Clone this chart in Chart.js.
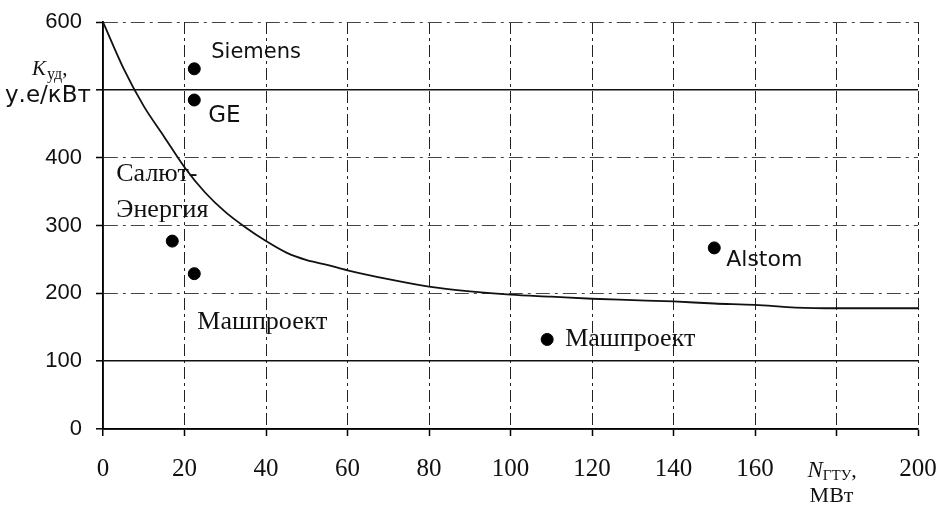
<!DOCTYPE html>
<html>
<head>
<meta charset="utf-8">
<script src="https://cdn.jsdelivr.net/npm/chart.js@4"></script>
<style>
html,body{margin:0;padding:0;background:#fff;}
#wrap{width:939px;height:508px;position:relative;}
</style>
</head>
<body>
<div id="wrap"><canvas id="c" width="939" height="508"></canvas></div>
<script>
// ---- data ----
const curveX = [0, 5, 10, 15, 20, 25, 30, 35, 40, 45, 50, 55, 60, 70, 80, 90, 100, 110, 120, 130, 140, 150, 160, 170, 180, 190, 200];
const curveY = [600, 532, 476, 431, 386, 349, 320, 297, 277, 260, 249, 242, 234, 221, 210, 203, 198, 195, 192, 190, 188, 185, 183, 179, 178, 178, 178];
const companies = ['Siemens', 'GE', 'Салют-Энергия', 'Машпроект', 'Машпроект', 'Alstom'];
const pointX = [22.4, 22.4, 17, 22.4, 109, 150];
const pointY = [531, 485, 277, 229, 132, 267];
const xTicks = [0, 20, 40, 60, 80, 100, 120, 140, 160, 180, 200];
const yTicks = [0, 100, 200, 300, 400, 500, 600];
const yTitle = ['K', 'уд', ',', 'у.е/кВт'];
const xTitle = ['N', 'ГТУ', ',', 'МВт'];

// ---- label placement (pixels relative to each dot) ----
const labelStyle = [
  {lines: ['Siemens'], dx: 17, dy: [-16], font: '21px "DejaVu Sans"'},
  {lines: ['GE'], dx: 14, dy: [16], font: '23px "DejaVu Sans"'},
  {lines: ['Салют-', 'Энергия'], dx: -56, dy: [-67, -31], font: '26px "Liberation Serif"'},
  {lines: ['Машпроект'], dx: 3, dy: [49], font: '26px "Liberation Serif"'},
  {lines: ['Машпроект'], dx: 18, dy: [0], font: '26px "Liberation Serif"'},
  {lines: ['Alstom'], dx: 12, dy: [12], font: '22px "DejaVu Sans"'}
];

const curveData = curveX.map((x, i) => ({x: x, y: curveY[i]}));
const pointData = pointX.map((x, i) => ({x: x, y: pointY[i]}));

const bgPlugin = {
  id: 'bg',
  beforeDraw(chart) {
    const c = chart.ctx;
    c.save();
    c.fillStyle = '#fff';
    c.fillRect(0, 0, chart.width, chart.height);
    c.restore();
  }
};

const textPlugin = {
  id: 'texts',
  afterDraw(chart) {
    const c = chart.ctx;
    const xs = chart.scales.x, ys = chart.scales.y;
    c.save();
    c.fillStyle = '#111';
    c.textBaseline = 'middle';
    c.textAlign = 'left';
    // point labels
    labelStyle.forEach((ls, i) => {
      const px = xs.getPixelForValue(pointX[i]);
      const py = ys.getPixelForValue(pointY[i]);
      c.font = ls.font;
      ls.lines.forEach((t, j) => c.fillText(t, px + ls.dx, py + ls.dy[j]));
    });
    // y axis title (in place of the 500 label)
    const y500 = ys.getPixelForValue(500);
    c.font = 'italic 21px "Liberation Serif"';
    c.textBaseline = 'alphabetic';
    c.fillText(yTitle[0], 32, y500 - 15);
    let w = c.measureText(yTitle[0]).width;
    c.font = '16px "Liberation Serif"';
    c.fillText(yTitle[1], 32 + w + 1, y500 - 11);
    let w2 = c.measureText(yTitle[1]).width;
    c.font = '21px "Liberation Serif"';
    c.fillText(yTitle[2], 32 + w + 1 + w2, y500 - 15);
    c.textBaseline = 'middle';
    c.font = '23px "DejaVu Sans"';
    c.fillText(yTitle[3], 5, y500 + 6);
    // x axis title (in place of the 180 label)
    const x180 = xs.getPixelForValue(180);
    const yb = xs.top;
    c.textBaseline = 'alphabetic';
    c.font = 'italic 23px "Liberation Serif"';
    c.fillText(xTitle[0], x180 - 29, yb + 48);
    w = c.measureText(xTitle[0]).width;
    c.font = '15px "Liberation Serif"';
    c.fillText(xTitle[1], x180 - 29 + w, yb + 51);
    w2 = c.measureText(xTitle[1]).width;
    c.font = '22px "Liberation Serif"';
    c.fillText(xTitle[2], x180 - 29 + w + w2, yb + 48);
    c.textAlign = 'center';
    c.font = '22px "Liberation Serif"';
    c.fillText(xTitle[3], x180 - 5, yb + 73);
    c.restore();
  }
};

new Chart(document.getElementById('c'), {
  type: 'scatter',
  data: {
    datasets: [
      {
        type: 'line',
        data: curveData,
        borderColor: '#111',
        borderWidth: 1.8,
        pointRadius: 0,
        fill: false,
        cubicInterpolationMode: 'monotone'
      },
      {
        type: 'scatter',
        data: pointData,
        backgroundColor: '#000',
        borderColor: '#000',
        pointRadius: 6,
        pointHoverRadius: 6
      }
    ]
  },
  plugins: [bgPlugin, textPlugin],
  options: {
    responsive: false,
    animation: false,
    events: [],
    layout: {padding: {top: 22, right: 21, left: 0, bottom: 0}},
    plugins: {legend: {display: false}, tooltip: {enabled: false}},
    scales: {
      x: {
        type: 'linear',
        min: 0, max: 200,
        afterFit(s) { s.height = 79; s.paddingLeft = 0; s.paddingRight = 0; },
        afterBuildTicks(s) { s.ticks = xTicks.map(v => ({value: v})); },
        ticks: {
          font: {family: '"Liberation Serif"', size: 25},
          color: '#111',
          padding: 18,
          maxRotation: 0,
          autoSkip: false,
          callback: v => (v === 180 ? '' : String(v))
        },
        grid: {
          color: '#222',
          lineWidth: ctx => (ctx.tick && ctx.tick.value > 0 ? 1 : 1.5),
          tickLength: 7,
          tickColor: '#000',
          tickWidth: 1.5,
          tickBorderDash: []
        },
        border: {
          display: true, color: '#000', width: 1.8,
          dash: ctx => (ctx.tick && ctx.tick.value > 0 ? [12, 4, 3, 4] : [])
        }
      },
      y: {
        type: 'linear',
        min: 0, max: 600,
        afterFit(s) { s.width = 103; s.paddingTop = 0; s.paddingBottom = 0; },
        afterBuildTicks(s) { s.ticks = yTicks.map(v => ({value: v})); },
        ticks: {
          font: {family: '"Liberation Sans"', size: 22},
          color: '#111',
          padding: 14,
          callback: v => (v === 500 ? '' : String(v))
        },
        grid: {
          color: ctx => (ctx.tick && [600, 400, 300, 200].includes(ctx.tick.value) ? '#444' : '#111'),
          lineWidth: ctx => (ctx.tick && [600, 400, 300, 200].includes(ctx.tick.value) ? 1 : 1.6),
          tickLength: 7,
          tickColor: '#000',
          tickWidth: 1.5,
          tickBorderDash: []
        },
        border: {
          display: true, color: '#000', width: 1.8,
          dash: ctx => (ctx.tick && [600, 400, 300, 200].includes(ctx.tick.value) ? [14, 5, 3, 5] : [])
        }
      }
    }
  }
});
</script>
</body>
</html>
